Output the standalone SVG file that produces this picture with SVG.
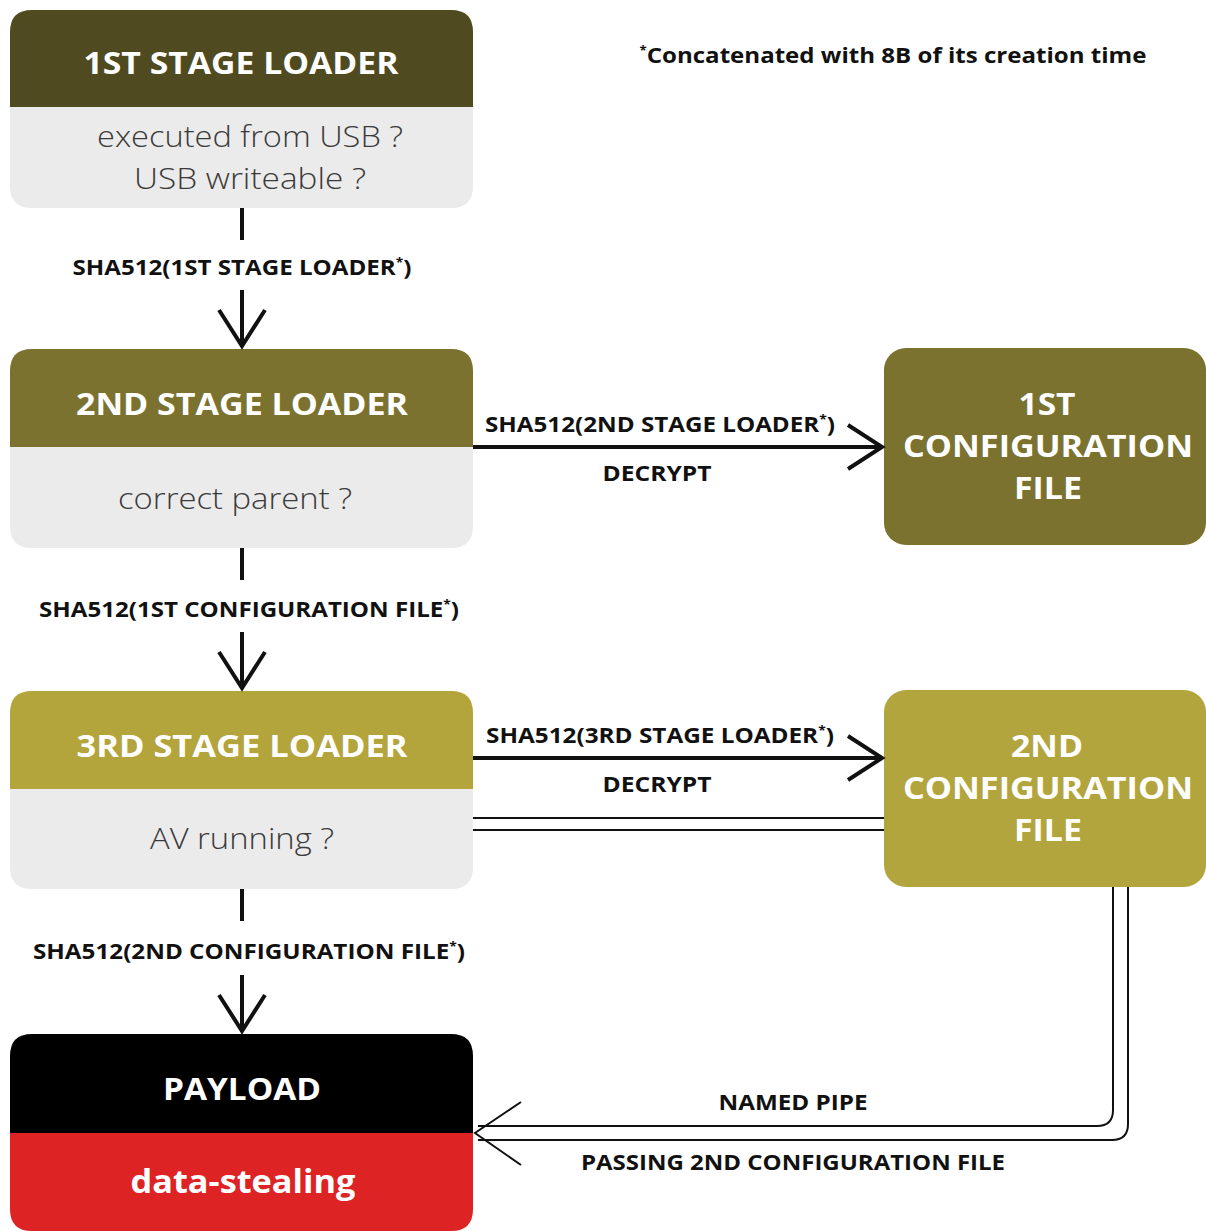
<svg xmlns="http://www.w3.org/2000/svg" width="1206" height="1231" viewBox="0 0 1206 1231">
<style>
.hd{font-family:"Open Sans","Noto Sans","Liberation Sans",sans-serif;font-weight:700;fill:#fff;text-anchor:middle}
.bd{font-family:"Open Sans","Noto Sans","Liberation Sans",sans-serif;font-weight:300;fill:#3a3a3a;text-anchor:middle}
.lb{font-family:"Open Sans","Noto Sans","Liberation Sans",sans-serif;font-weight:700;fill:#111;text-anchor:middle}
.sup{font-size:12px}
.ln{stroke:#111;stroke-width:4;fill:none;stroke-linecap:butt}
.thin{stroke:#111;stroke-width:2;fill:none}
.body{fill:#ebebeb}
</style>
<rect width="1206" height="1231" fill="#fff"/>
<text class="lb" x="893" y="63" font-size="22" textLength="507" lengthAdjust="spacingAndGlyphs"><tspan class="sup" dy="-8">*</tspan><tspan dy="8">Concatenated with 8B of its creation time</tspan></text>

<g id="stage1">
<path d="M10 107 V32 Q10 10 32 10 H451 Q473 10 473 32 V107 Z" fill="#4f4a1f"/>
<path class="body" d="M10 107 H473 V186 Q473 208 451 208 H32 Q10 208 10 186 Z"/>
<text class="hd" x="241" y="74" font-size="31" textLength="315" lengthAdjust="spacingAndGlyphs">1ST STAGE LOADER</text>
<text class="bd" x="250" y="147" font-size="30" textLength="306" lengthAdjust="spacingAndGlyphs">executed from USB ?</text>
<text class="bd" x="250" y="189" font-size="30" textLength="232" lengthAdjust="spacingAndGlyphs">USB writeable ?</text>
</g>

<g id="stage2">
<path d="M10 447 V371 Q10 349 32 349 H451 Q473 349 473 371 V447 Z" fill="#7b7230"/>
<path class="body" d="M10 447 H473 V526 Q473 548 451 548 H32 Q10 548 10 526 Z"/>
<text class="hd" x="242" y="415" font-size="31" textLength="332" lengthAdjust="spacingAndGlyphs">2ND STAGE LOADER</text>
<text class="bd" x="235" y="509" font-size="30" textLength="234" lengthAdjust="spacingAndGlyphs">correct parent ?</text>
</g>

<g id="stage3">
<path d="M10 789 V713 Q10 691 32 691 H451 Q473 691 473 713 V789 Z" fill="#b3a43c"/>
<path class="body" d="M10 789 H473 V867 Q473 889 451 889 H32 Q10 889 10 867 Z"/>
<text class="hd" x="242" y="757" font-size="31" textLength="331" lengthAdjust="spacingAndGlyphs">3RD STAGE LOADER</text>
<text class="bd" x="242" y="849" font-size="30" textLength="184" lengthAdjust="spacingAndGlyphs">AV running ?</text>
</g>

<g id="payload">
<path d="M10 1133 V1056 Q10 1034 32 1034 H451 Q473 1034 473 1056 V1133 Z" fill="#000"/>
<path d="M10 1133 H473 V1209 Q473 1231 451 1231 H32 Q10 1231 10 1209 Z" fill="#dd2323"/>
<text class="hd" x="242" y="1100" font-size="31" textLength="158" lengthAdjust="spacingAndGlyphs">PAYLOAD</text>
<text class="hd" x="243" y="1193" font-size="32" textLength="225" lengthAdjust="spacingAndGlyphs">data-stealing</text>
</g>

<g id="config1">
<rect x="884" y="348" width="322" height="197" rx="22" fill="#7b7230"/>
<text class="hd" x="1047" y="415" font-size="31" textLength="57" lengthAdjust="spacingAndGlyphs">1ST</text>
<text class="hd" x="1048" y="457" font-size="31" textLength="290" lengthAdjust="spacingAndGlyphs">CONFIGURATION</text>
<text class="hd" x="1048" y="499" font-size="31" textLength="68" lengthAdjust="spacingAndGlyphs">FILE</text>
</g>

<g id="config2">
<rect x="884" y="690" width="322" height="197" rx="22" fill="#b3a53d"/>
<text class="hd" x="1047" y="757" font-size="31" textLength="72" lengthAdjust="spacingAndGlyphs">2ND</text>
<text class="hd" x="1048" y="799" font-size="31" textLength="290" lengthAdjust="spacingAndGlyphs">CONFIGURATION</text>
<text class="hd" x="1048" y="841" font-size="31" textLength="68" lengthAdjust="spacingAndGlyphs">FILE</text>
</g>

<g id="connectors">
<!-- stage1 -> stage2 -->
<path class="ln" d="M242 208 V240"/>
<path class="ln" d="M242 290 V346 M219 310 L242 346 L265 310"/>
<text class="lb" x="242" y="275" font-size="21" textLength="339" lengthAdjust="spacingAndGlyphs">SHA512(1ST STAGE LOADER<tspan class="sup" dy="-8">*</tspan><tspan dy="8">)</tspan></text>
<!-- stage2 -> stage3 -->
<path class="ln" d="M242 548 V580"/>
<path class="ln" d="M242 632 V688 M219 652 L242 688 L265 652"/>
<text class="lb" x="249" y="617" font-size="21" textLength="420" lengthAdjust="spacingAndGlyphs">SHA512(1ST CONFIGURATION FILE<tspan class="sup" dy="-8">*</tspan><tspan dy="8">)</tspan></text>
<!-- stage3 -> payload -->
<path class="ln" d="M242 889 V921"/>
<path class="ln" d="M242 975 V1031 M219 995 L242 1031 L265 995"/>
<text class="lb" x="249" y="959" font-size="21" textLength="432" lengthAdjust="spacingAndGlyphs">SHA512(2ND CONFIGURATION FILE<tspan class="sup" dy="-8">*</tspan><tspan dy="8">)</tspan></text>
<!-- stage2 -> config1 -->
<path class="ln" d="M473 447 H882 M848 425 L882 447 L848 469"/>
<text class="lb" x="660" y="432" font-size="21" textLength="350" lengthAdjust="spacingAndGlyphs">SHA512(2ND STAGE LOADER<tspan class="sup" dy="-8">*</tspan><tspan dy="8">)</tspan></text>
<text class="lb" x="657" y="481" font-size="21" textLength="109" lengthAdjust="spacingAndGlyphs">DECRYPT</text>
<!-- stage3 -> config2 -->
<path class="ln" d="M473 758 H882 M848 736 L882 758 L848 780"/>
<text class="lb" x="660" y="743" font-size="21" textLength="348" lengthAdjust="spacingAndGlyphs">SHA512(3RD STAGE LOADER<tspan class="sup" dy="-8">*</tspan><tspan dy="8">)</tspan></text>
<text class="lb" x="657" y="792" font-size="21" textLength="109" lengthAdjust="spacingAndGlyphs">DECRYPT</text>
<!-- double line stage3 - config2 -->
<path class="thin" d="M473 818 H884 M473 830 H884"/>
<!-- named pipe -->
<path class="thin" d="M1113 887 V1110 Q1113 1126 1097 1126 H478"/>
<path class="thin" d="M1128 887 V1124 Q1128 1140 1112 1140 H478"/>
<path class="thin" d="M521 1102 L475 1133 L521 1165"/>
<text class="lb" x="793" y="1110" font-size="21" textLength="149" lengthAdjust="spacingAndGlyphs">NAMED PIPE</text>
<text class="lb" x="793" y="1170" font-size="21" textLength="424" lengthAdjust="spacingAndGlyphs">PASSING 2ND CONFIGURATION FILE</text>
</g>
</svg>
